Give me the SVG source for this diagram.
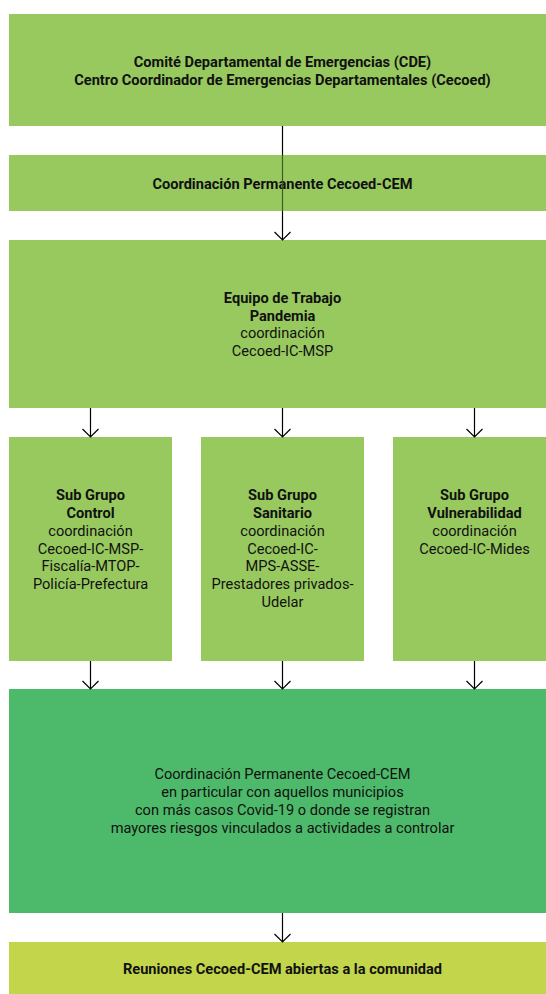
<svg xmlns="http://www.w3.org/2000/svg" width="546" height="994" viewBox="0 0 546 994">
<style>
.lg{fill:#98C95F}
.mg{fill:#4DB96A}
.yg{fill:#C3D54A}
text{font-family:Roboto,"Liberation Sans",sans-serif;font-size:14.6px;fill:#111;text-anchor:middle}
.b{font-weight:bold}
.c{stroke:#000;stroke-width:1.2;fill:none}
</style>
<rect width="546" height="994" fill="#fff"/>
<g id="n1"><rect class="lg" x="9" y="14" width="547" height="112"/>
<text class="b" x="282.5" y="67">Comité Departamental de Emergencias (CDE)</text>
<text class="b" x="282.5" y="84.5">Centro Coordinador de Emergencias Departamentales (Cecoed)</text></g>
<g id="n2"><rect class="lg" x="9" y="155" width="547" height="56"/>
<text class="b" x="282.5" y="189">Coordinación Permanente Cecoed-CEM</text></g>
<g id="n3"><rect class="lg" x="9" y="240" width="547" height="168"/>
<text class="b" x="282.5" y="303">Equipo de Trabajo</text>
<text class="b" x="282.5" y="320.5">Pandemia</text>
<text x="282.5" y="338">coordinación</text>
<text x="282.5" y="355.5">Cecoed-IC-MSP</text></g>
<g id="n4"><rect class="lg" x="9" y="437" width="163" height="224"/>
<text class="b" x="90.5" y="500">Sub Grupo</text>
<text class="b" x="90.5" y="518">Control</text>
<text x="90.5" y="536">coordinación</text>
<text x="90.5" y="553.5">Cecoed-IC-MSP-</text>
<text x="90.5" y="571">Fiscalía-MTOP-</text>
<text x="90.5" y="589">Policía-Prefectura</text></g>
<g id="n5"><rect class="lg" x="201" y="437" width="163" height="224"/>
<text class="b" x="282.5" y="500">Sub Grupo</text>
<text class="b" x="282.5" y="518">Sanitario</text>
<text x="282.5" y="536">coordinación</text>
<text x="282.5" y="553.5">Cecoed-IC-</text>
<text x="282.5" y="571">MPS-ASSE-</text>
<text x="282.5" y="589">Prestadores privados-</text>
<text x="282.5" y="606.5">Udelar</text></g>
<g id="n6"><rect class="lg" x="393" y="437" width="163" height="224"/>
<text class="b" x="474.5" y="500">Sub Grupo</text>
<text class="b" x="474.5" y="518">Vulnerabilidad</text>
<text x="474.5" y="536">coordinación</text>
<text x="474.5" y="553.5">Cecoed-IC-Mides</text></g>
<g id="n7"><rect class="mg" x="9" y="689" width="547" height="224"/>
<text x="282.5" y="779">Coordinación Permanente Cecoed-CEM</text>
<text x="282.5" y="796.5">en particular con aquellos municipios</text>
<text x="282.5" y="814.5">con más casos Covid-19 o donde se registran</text>
<text x="282.5" y="832.5">mayores riesgos vinculados a actividades a controlar</text></g>
<g id="n8"><rect class="yg" x="9" y="942" width="547" height="52"/>
<text class="b" x="282.5" y="974">Reuniones Cecoed-CEM abiertas a la comunidad</text></g>
<g id="connectors">
<path class="c" d="M282.5 126V155"/>
<path d="M282.5 155V211" stroke="#3f5a26" stroke-width="1.2" fill="none"/>
<path class="c" d="M282.5 211V240M274.5 232L282.5 240L290.5 232"/>
<path class="c" d="M90.5 408V437M82.5 429L90.5 437L98.5 429"/>
<path class="c" d="M282.5 408V437M274.5 429L282.5 437L290.5 429"/>
<path class="c" d="M474.5 408V437M466.5 429L474.5 437L482.5 429"/>
<path class="c" d="M90.5 661V689M82.5 681L90.5 689L98.5 681"/>
<path class="c" d="M282.5 661V689M274.5 681L282.5 689L290.5 681"/>
<path class="c" d="M474.5 661V689M466.5 681L474.5 689L482.5 681"/>
<path class="c" d="M282.5 913V942M274.5 934L282.5 942L290.5 934"/>
</g>
</svg>
